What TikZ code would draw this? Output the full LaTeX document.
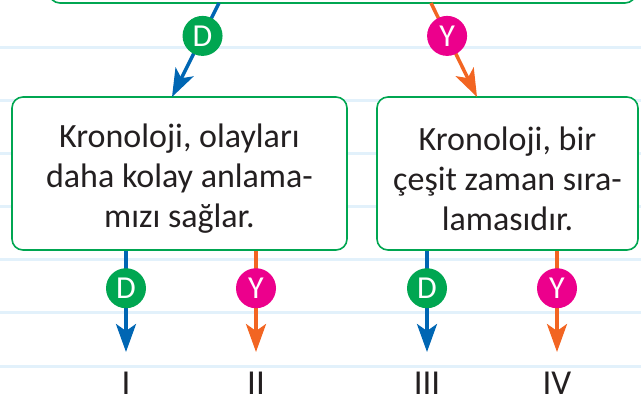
\documentclass[tikz,border=0pt]{standalone}
\usepackage{fontspec}
\setmainfont{Carlito}
\usetikzlibrary{arrows.meta}
\definecolor{cgreen}{HTML}{00A651}
\definecolor{cblue}{HTML}{0066B3}
\definecolor{corange}{HTML}{F26522}
\definecolor{cmag}{HTML}{EC008C}
\definecolor{cline}{HTML}{E2F1FB}
\definecolor{ctext}{HTML}{231F20}
\tikzset{
  notebook/.style={cline, line width=3pt},
  box/.style={draw=cgreen, line width=1.6pt, fill=white, rounded corners=11pt, inner sep=0pt},
  boxtext/.style={align=center, text=ctext, inner sep=0pt, font=\fontsize{34}{40}\selectfont},
  darrow/.style={cblue, line width=3.5pt, -{Stealth[length=28pt,width=20pt,inset=7pt]}},
  yarrow/.style={corange, line width=3.5pt, -{Stealth[length=28pt,width=20pt,inset=7pt]}},
  dcirc/.style={circle, fill=cgreen, text=white, minimum size=40pt, inner sep=0pt,
    font=\fontsize{32}{32}\selectfont},
  ycirc/.style={circle, fill=cmag, text=white, minimum size=40pt, inner sep=0pt,
    font=\fontsize{32}{32}\selectfont},
  roman/.style={text=ctext, font=\fontsize{35}{35}\selectfont, inner sep=0pt}
}
\begin{document}
\begin{tikzpicture}[x=1pt,y=-1pt]
\useasboundingbox (0,0) rectangle (641,403);
\clip (0,0) rectangle (641,403);
% notebook lines
\foreach \yy in {48,101,154,207,260,313,367}
  \draw[notebook] (0,\yy) -- (641,\yy);
% top box (partially visible)
\node[box, minimum width=587pt, minimum height=86pt] (top) at (342.5,-40) {};
% middle boxes
\node[box, minimum width=335pt, minimum height=153pt] (L) at (179.5,173.5) {};
\node[box, minimum width=261pt, minimum height=153pt] (R) at (507.5,173.5) {};
\node[boxtext] (Lt) at ([yshift=-5pt]L.center)
  {Kronoloji, olayları\\daha kolay anlama-\\mızı sağlar.};
\node[boxtext] (Rt) at ([yshift=-5pt]R.center)
  {Kronoloji, bir\\çeşit zaman sıra-\\lamasıdır.};
% top arrows
\coordinate (t1) at (219,3);
\coordinate (t2) at (431,3);
\coordinate (e1) at (172,97);
\coordinate (e2) at (477,97);
\draw[darrow] (t1) -- node[pos=0.35, dcirc] {D} (e1);
\draw[yarrow] (t2) -- node[pos=0.35, ycirc] {Y} (e2);
% bottom arrows
\coordinate (b1) at (126,352);
\coordinate (b2) at (256,352);
\coordinate (b3) at (427,352);
\coordinate (b4) at (557,352);
\draw[darrow] (b1 |- L.south) -- node[pos=0.37, dcirc] {D} (b1);
\draw[yarrow] (b2 |- L.south) -- node[pos=0.37, ycirc] {Y} (b2);
\draw[darrow] (b3 |- R.south) -- node[pos=0.37, dcirc] {D} (b3);
\draw[yarrow] (b4 |- R.south) -- node[pos=0.37, ycirc] {Y} (b4);
% labels
\node[roman] (l1) at (126,383) {I};
\node[roman] (l2) at (256,383) {II};
\node[roman] (l3) at (427,383) {III};
\node[roman] (l4) at (557,383) {IV};
\end{tikzpicture}
\end{document}
